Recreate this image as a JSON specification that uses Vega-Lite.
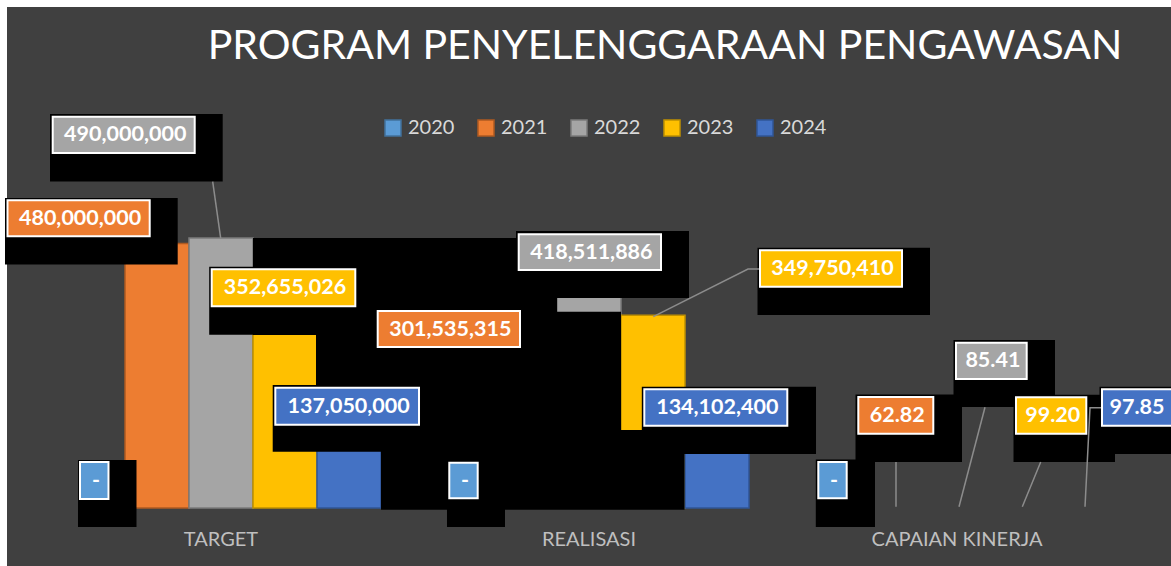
{
  "$schema": "https://vega.github.io/schema/vega-lite/v6.json",
  "width": 1164,
  "height": 559,
  "autosize": {"type": "none"},
  "padding": {"left": 7, "top": 7, "right": 0, "bottom": 0},
  "background": "#ffffff",
  "view": {"fill": "#404040", "stroke": null},
  "title": {
    "text": "PROGRAM PENYELENGGARAAN PENGAWASAN",
    "font": "Lato",
    "fontSize": 41,
    "fontWeight": "normal",
    "color": "#ffffff",
    "anchor": "middle",
    "frame": "group",
    "baseline": "top",
    "offset": 0,
    "dx": 76,
    "dy": 61
  },
  "data": {
    "values": [
      {"kategori": "TARGET", "tahun": "2020", "nilai": 0, "teks": "-", "kode": "T2020"},
      {"kategori": "TARGET", "tahun": "2021", "nilai": 480000000, "teks": "480,000,000", "kode": "T2021"},
      {"kategori": "TARGET", "tahun": "2022", "nilai": 490000000, "teks": "490,000,000", "kode": "T2022"},
      {"kategori": "TARGET", "tahun": "2023", "nilai": 352655026, "teks": "352,655,026", "kode": "T2023"},
      {"kategori": "TARGET", "tahun": "2024", "nilai": 137050000, "teks": "137,050,000", "kode": "T2024"},
      {"kategori": "REALISASI", "tahun": "2020", "nilai": 0, "teks": "-", "kode": "R2020"},
      {"kategori": "REALISASI", "tahun": "2021", "nilai": 301535315, "teks": "301,535,315", "kode": "R2021"},
      {"kategori": "REALISASI", "tahun": "2022", "nilai": 418511886, "teks": "418,511,886", "kode": "R2022"},
      {"kategori": "REALISASI", "tahun": "2023", "nilai": 349750410, "teks": "349,750,410", "kode": "R2023"},
      {"kategori": "REALISASI", "tahun": "2024", "nilai": 134102400, "teks": "134,102,400", "kode": "R2024"},
      {"kategori": "CAPAIAN KINERJA", "tahun": "2020", "nilai": 0, "teks": "-", "kode": "C2020"},
      {"kategori": "CAPAIAN KINERJA", "tahun": "2021", "nilai": 62.82, "teks": "62.82", "kode": "C2021"},
      {"kategori": "CAPAIAN KINERJA", "tahun": "2022", "nilai": 85.41, "teks": "85.41", "kode": "C2022"},
      {"kategori": "CAPAIAN KINERJA", "tahun": "2023", "nilai": 99.2, "teks": "99.20", "kode": "C2023"},
      {"kategori": "CAPAIAN KINERJA", "tahun": "2024", "nilai": 97.85, "teks": "97.85", "kode": "C2024"}
    ]
  },
  "encoding": {
    "x": {
      "field": "kategori",
      "type": "nominal",
      "sort": ["TARGET", "REALISASI", "CAPAIAN KINERJA"],
      "scale": {"range": [30, 1134], "paddingInner": 0.1304, "paddingOuter": 0.0652},
      "axis": {
        "title": null,
        "orient": "bottom",
        "offset": -45,
        "labelPadding": 8,
        "domain": false,
        "ticks": false,
        "grid": false,
        "labelAngle": 0,
        "labelFont": "Lato",
        "labelFontSize": 20,
        "labelColor": "#bfbfbf"
      }
    },
    "xOffset": {
      "field": "tahun",
      "type": "nominal",
      "sort": ["2020", "2021", "2022", "2023", "2024"],
      "scale": {"paddingInner": 0, "paddingOuter": 0}
    },
    "y": {
      "field": "nilai",
      "type": "quantitative",
      "stack": null,
      "scale": {"domain": [0, 600000000], "range": [501, 170.4], "nice": false, "zero": true},
      "axis": null
    }
  },
  "layer": [
    {
      "mark": {"type": "bar"},
      "encoding": {
        "color": {
          "field": "tahun",
          "type": "nominal",
          "scale": {
            "domain": ["2020", "2021", "2022", "2023", "2024"],
            "range": ["#5B9BD5", "#ED7D31", "#A5A5A5", "#FFC000", "#4472C4"]
          },
          "legend": {
            "title": null,
            "orient": "none",
            "legendX": 376,
            "legendY": 111,
            "direction": "horizontal",
            "padding": 0,
            "symbolType": "square",
            "symbolSize": 256,
            "symbolStrokeColor": "#1a1a1a",
            "symbolStrokeWidth": 1.5,
            "labelFont": "Lato",
            "labelFontSize": 20,
            "labelColor": "#d9d9d9",
            "labelOffset": 5,
            "columnPadding": 20
          }
        },
        "stroke": {
          "field": "tahun",
          "type": "nominal",
          "scale": {
            "domain": ["2020", "2021", "2022", "2023", "2024"],
            "range": ["#41719c", "#ae5a21", "#7b7b7b", "#bf9000", "#2f5597"]
          },
          "legend": null
        },
        "strokeWidth": {"condition": {"test": "datum.nilai > 1000", "value": 1.5}, "value": 0}
      }
    },
    {
      "mark": {"type": "point", "filled": true, "size": 4, "fill": "#000000", "strokeWidth": 0, "opacity": 1},
      "encoding": {
        "shape": {
          "field": "kode",
          "type": "nominal",
          "legend": null,
          "scale": {
            "domain": ["T2020", "T2021", "T2022", "T2023", "T2024", "R2020", "R2021", "R2022", "R2023", "R2024", "C2020", "C2021", "C2022", "C2023", "C2024"],
            "range": [
              "M-15,-48H43.5V19H-15Z",
              "M-152,-45.5H20.7V21H-152Z",
              "M-171,-124H1.7V-56.5H-171Z",
              "M-75.8,-47H98.3V21H-75.8Z",
              "M-76.3,-47.5H98V19.2H-76.3Z",
              "M-14,-48H44V19H-14Z",
              "M-272,-103.8H32V-30.1H96V88.2H159.5V168H-144V43.2H-209V-6.8H-272Z",
              "M-73,-46.4H100V20.6H-73Z",
              "M104.5,-67.5H277V-0.3H104.5Z",
              "M-75.2,-47.3H99V20H-75.2Z",
              "M-13.2,-48.5H46V19H-13.2Z",
              "M-37.5,-113.5H69V-46H-37.5Z",
              "M-3.5,-168H98V-101H-3.5Z",
              "M-7.5,-113.2H94V-46H-7.5Z",
              "M14.5,-121.2H120V-54H14.5Z"
            ]
          }
        }
      }
    },
    {
      "transform": [{"filter": {"field": "kode", "oneOf": ["T2022", "R2023", "C2021", "C2022", "C2023", "C2024"]}}],
      "mark": {"type": "point", "filled": false, "size": 4, "color": "#8c8c8c", "strokeWidth": 1.5, "opacity": 1},
      "encoding": {
        "shape": {
          "field": "kode",
          "type": "nominal",
          "legend": null,
          "scale": {
            "domain": ["T2022", "R2023", "C2021", "C2022", "C2023", "C2024"],
            "range": [
              "M-8.3,-56.3L-0.3,0.3",
              "M106,-46.3H95L0.3,1.4",
              "M3,-46V-1.3",
              "M28,-100.7L2,-1.3",
              "M19.7,-46L1.3,-1.3",
              "M16,-100.3H5L0,-1.3"
            ]
          }
        }
      }
    },
    {
      "mark": {"type": "point", "filled": true, "size": 4, "stroke": "#ffffff", "strokeWidth": 2, "opacity": 1},
      "encoding": {
        "color": {"field": "tahun", "type": "nominal"},
        "shape": {
          "field": "kode",
          "type": "nominal",
          "legend": null,
          "scale": {
            "domain": ["T2020", "T2021", "T2022", "T2023", "T2024", "R2020", "R2021", "R2022", "R2023", "R2024", "C2020", "C2021", "C2022", "C2023", "C2024"],
            "range": [
              "M-13,-46H15.5V-9H-13Z",
              "M-149.5,-43.2H-7.3V-7.2H-149.5Z",
              "M-168.3,-121.3H-26.3V-85H-168.3Z",
              "M-73.3,-44.4H70.3V-7.4H-73.3Z",
              "M-73.7,-44.8H70V-7.8H-73.7Z",
              "M-11.7,-45.3H16.7V-9.7H-11.7Z",
              "M-147.3,-30.8H-5V5.2H-147.3Z",
              "M-70.3,-43.1H72V-7.4H-70.3Z",
              "M107,-65H249V-28.6H107Z",
              "M-72.7,-44.8H70.3V-8.4H-72.7Z",
              "M-10.7,-46H17.7V-9.7H-10.7Z",
              "M-34.7,-111H40.3V-74.3H-34.7Z",
              "M-1,-165.3H69.7V-129H-1Z",
              "M-5,-110.7H65.3V-74.3H-5Z",
              "M17,-118.7H92V-82.3H17Z"
            ]
          }
        }
      }
    },
    {
      "mark": {
        "type": "text",
        "font": "Lato",
        "fontWeight": "bold",
        "fontSize": 21.5,
        "fill": "#ffffff",
        "align": "center",
        "baseline": "middle",
        "dx": {"expr": "[3, -76.9, -95.8, 0, -0.4, 4, -74.7, 2.4, 179.5, 0.3, 5, 4.3, 35.9, 31.7, 52][indexof(['T2020','T2021','T2022','T2023','T2024','R2020','R2021','R2022','R2023','R2024','C2020','C2021','C2022','C2023','C2024'], datum.kode)]"},
        "dy": {"expr": "[-27, -24.7, -102.7, -25.4, -25.8, -27, -12.3, -24.8, -46.3, -26.1, -27.4, -92.2, -146.7, -92, -100][indexof(['T2020','T2021','T2022','T2023','T2024','R2020','R2021','R2022','R2023','R2024','C2020','C2021','C2022','C2023','C2024'], datum.kode)]"}
      },
      "encoding": {
        "text": {"field": "teks", "type": "nominal"}
      }
    }
  ],
  "resolve": {"scale": {"shape": "independent"}},
  "config": {
    "font": "Lato"
  }
}
